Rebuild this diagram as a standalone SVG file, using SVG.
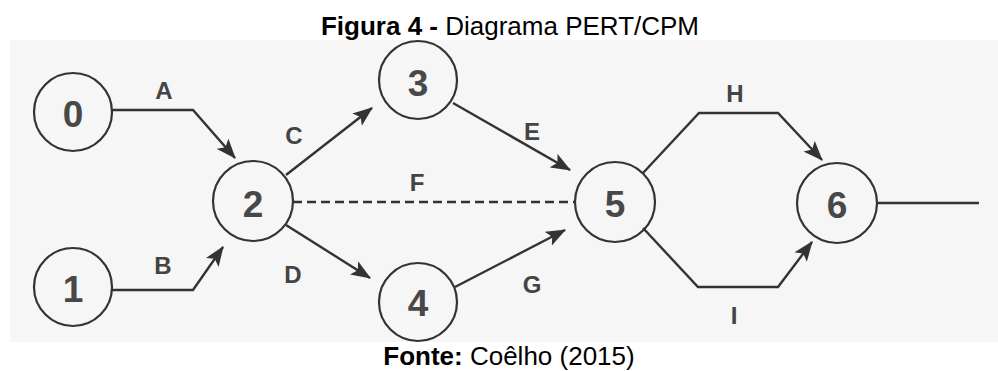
<svg xmlns="http://www.w3.org/2000/svg" width="998" height="371" viewBox="0 0 998 371">
<defs>
<style>
.bg{fill:#f6f6f6}
.node circle{fill:none;stroke:#333;stroke-width:2.2}
.node text{font-family:"Liberation Sans",Arial,sans-serif;font-weight:bold;font-size:37px;fill:#484848;text-anchor:middle}
.edge{fill:none;stroke:#333;stroke-width:2.4;stroke-linejoin:miter}
.arrow{marker-end:url(#ah)}
.dash{stroke-dasharray:9 5}
.lbl{font-family:"Liberation Sans",Arial,sans-serif;font-weight:bold;font-size:24px;fill:#444;text-anchor:middle}
.cap{font-family:"Liberation Sans",Arial,sans-serif;font-size:26px;fill:#000;text-anchor:middle}
</style>
<marker id="ah" markerUnits="userSpaceOnUse" markerWidth="20" markerHeight="16" refX="17" refY="7" orient="auto" viewBox="0 0 18 14">
<path d="M0,0 L18,7 L0,14 L4,7 Z" fill="#333"/>
</marker>
</defs>
<rect width="998" height="371" fill="#fff"/>
<rect class="bg" x="10" y="40" width="988" height="302"/>
<text class="cap" x="510" y="35"><tspan font-weight="bold">Figura 4 -</tspan> Diagrama PERT/CPM</text>
<text class="cap" x="509" y="365"><tspan font-weight="bold">Fonte:</tspan> Coêlho (2015)</text>
<g id="edges">
<path class="edge arrow" d="M112,110 H193 L235,158"/>
<path class="edge arrow" d="M112,290 H193 L223,247"/>
<path class="edge arrow" d="M286,175 L372,108"/>
<path class="edge arrow" d="M286,225 L370,278"/>
<path class="edge arrow" d="M453,103 L570,170"/>
<path class="edge dash" d="M293,202 H575"/>
<path class="edge arrow" d="M455,287 L565,230"/>
<path class="edge arrow" d="M643,173 L699,113 H778 L822,160"/>
<path class="edge arrow" d="M643,228 L698,287 H778 L812,242"/>
<path class="edge" d="M877,203 H979"/>
<text class="lbl" x="164" y="99">A</text>
<text class="lbl" x="163" y="274">B</text>
<text class="lbl" x="294" y="144">C</text>
<text class="lbl" x="293" y="283">D</text>
<text class="lbl" x="532" y="140">E</text>
<text class="lbl" x="417" y="191">F</text>
<text class="lbl" x="532" y="293">G</text>
<text class="lbl" x="735" y="102">H</text>
<text class="lbl" x="734" y="324">I</text>
</g>
<g id="n0" class="node"><circle cx="73" cy="112" r="39"/><text x="73" y="127">0</text></g>
<g id="n1" class="node"><circle cx="73" cy="287" r="39"/><text x="73" y="302">1</text></g>
<g id="n2" class="node"><circle cx="253" cy="201" r="40"/><text x="253" y="217">2</text></g>
<g id="n3" class="node"><circle cx="418" cy="80" r="39"/><text x="418" y="96">3</text></g>
<g id="n4" class="node"><circle cx="418" cy="302" r="39"/><text x="418" y="316">4</text></g>
<g id="n5" class="node"><circle cx="615" cy="202" r="40"/><text x="615" y="217">5</text></g>
<g id="n6" class="node"><circle cx="837" cy="203" r="40"/><text x="837" y="218">6</text></g>
</svg>
